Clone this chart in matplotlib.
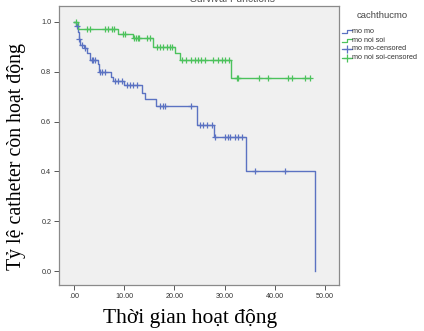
import numpy as np
import matplotlib
matplotlib.use("Agg")
import matplotlib.pyplot as plt
from matplotlib.lines import Line2D

# ---- data ----
blue_event_times = [0.4, 0.7, 0.9, 1.2, 2.0, 2.6, 3.1, 4.7, 5.0, 7.4, 7.8, 10.0, 13.5, 14.1, 16.3, 24.6, 27.9, 34.2, 48.1]
blue_surv        = [0.985, 0.96, 0.93, 0.908, 0.894, 0.874, 0.847, 0.83, 0.80, 0.78, 0.764, 0.745, 0.714, 0.69, 0.663, 0.586, 0.537, 0.40, 0.0]
blue_censor_times = [0.5, 1.0, 1.5, 2.2, 3.5, 3.85, 4.2, 5.2, 5.5, 6.2, 8.2, 8.8, 9.5, 10.5, 11.2, 11.8, 12.5,
                     17.1, 17.7, 18.1, 23.3, 25.1, 25.8, 26.4, 27.4, 28.0, 30.1, 30.7, 31.1, 32.1, 32.7, 33.4, 36.1, 42.0]
blue_end = 48.1

green_event_times = [0.8, 8.8, 11.7, 15.8, 20.1, 21.1, 31.2]
green_surv        = [0.971, 0.953, 0.936, 0.898, 0.874, 0.846, 0.775]
green_censor_times = [0.3, 2.5, 3.2, 6.2, 6.8, 7.5, 8.0, 9.8, 10.2, 12.0, 12.4, 12.7, 13.0, 14.5, 15.2,
                      16.5, 17.1, 17.8, 18.5, 19.1, 19.5, 21.5, 22.4, 23.4, 24.1, 24.8, 25.4, 26.1, 27.7,
                      28.7, 29.4, 30.1, 30.8, 32.4, 32.7, 36.9, 38.6, 42.7, 43.4, 46.0, 47.0]
green_end = 47.0

x_ticks = [0, 10, 20, 30, 40, 50]
x_tick_labels = [".00", "10.00", "20.00", "30.00", "40.00", "50.00"]
y_ticks = [0.0, 0.2, 0.4, 0.6, 0.8, 1.0]
y_tick_labels = ["0.0", "0.2", "0.4", "0.6", "0.8", "1.0"]

series_names = ["mo mo", "mo noi soi", "mo mo-censored", "mo noi soi-censored"]
legend_title = "cachthucmo"
xlabel = "Thời gian hoạt động"
ylabel = "Tỷ lệ catheter còn hoạt động"
title = "Survival Functions"

BLUE = "#5b72c2"
GREEN = "#4cc25c"

W, H = 424, 331
fig = plt.figure(figsize=(W / 100, H / 100), dpi=100)
fig.patch.set_facecolor("white")

def fx(px):
    return px / W

def fy(py):
    return 1 - py / H

ax = fig.add_axes([fx(59), fy(285), (339 - 59) / W, (285 - 6) / H])
ax.set_facecolor("#f0f0f0")
ax.set_xlim(-2.99, 52.8)
ax.set_ylim(-0.056, 1.064)

def surv_at(times, survs, t):
    s = 1.0
    for et, sv in zip(times, survs):
        if et <= t:
            s = sv
    return s

def draw_curve(times, survs, ctimes, end, color):
    xs = [0.0] + list(times)
    ys = [1.0] + list(survs)
    if end > xs[-1]:
        xs.append(end)
        ys.append(ys[-1])
    ax.step(xs, ys, where="post", color=color, lw=1.0, zorder=3)
    cy = [surv_at(times, survs, t) for t in ctimes]
    ax.plot(ctimes, cy, ls="none", marker="+", ms=5, mew=0.9, color=color, zorder=4)

draw_curve(blue_event_times, blue_surv, blue_censor_times, blue_end, BLUE)
draw_curve(green_event_times, green_surv, green_censor_times, green_end, GREEN)

ax.set_xticks(x_ticks)
ax.set_xticklabels(x_tick_labels, fontsize=5.2, family="Liberation Sans", color="#333333")
ax.set_yticks(y_ticks)
ax.set_yticklabels(y_tick_labels, fontsize=5.2, family="Liberation Sans", color="#333333")
ax.tick_params(direction="out", length=3.5, width=0.7, color="#555555", pad=2)
for sp in ax.spines.values():
    sp.set_color("#8a8a8a")
    sp.set_linewidth(0.9)

# axis labels
fig.text(fx(190), fy(318), xlabel, ha="center", va="center", fontsize=15.5,
         family="Liberation Serif", color="black")
fig.text(fx(17), fy(156), ylabel, ha="center", va="center", rotation=90, fontsize=14.3,
         family="Liberation Serif", color="black")

# clipped title at the very top (the reference shows only its lower edge)
fig.text(fx(232), fy(2.5), title, ha="center", va="baseline", fontsize=7.5,
         family="Liberation Sans", color="#555555")

# legend (drawn manually)
fig.text(fx(382), fy(16), legend_title, ha="center", va="center", fontsize=6.8,
         family="Liberation Sans", color="#444444")
rows = [31.5, 40, 49, 57.5]
x0, x1 = 342, 352
for i, (name, py) in enumerate(zip(series_names, rows)):
    color = BLUE if i % 2 == 0 else GREEN
    if i < 2:
        xs = [x0, x0 + 4.5, x0 + 4.5, x1]
        ys = [py + 1.5, py + 1.5, py - 1.5, py - 1.5]
        fig.add_artist(Line2D([fx(v) for v in xs], [fy(v) for v in ys], color=color, lw=0.9))
    else:
        fig.add_artist(Line2D([fx(x0), fx(x1)], [fy(py), fy(py)], color=color, lw=0.9))
        fig.add_artist(Line2D([fx((x0 + x1) / 2)], [fy(py)], ls="none", marker="+", ms=6,
                              mew=0.9, color=color))
    fig.text(fx(352.5), fy(py), name, ha="left", va="center", fontsize=5.2,
             family="Liberation Sans", color="#333333")

fig.savefig("out.png", dpi=100)
